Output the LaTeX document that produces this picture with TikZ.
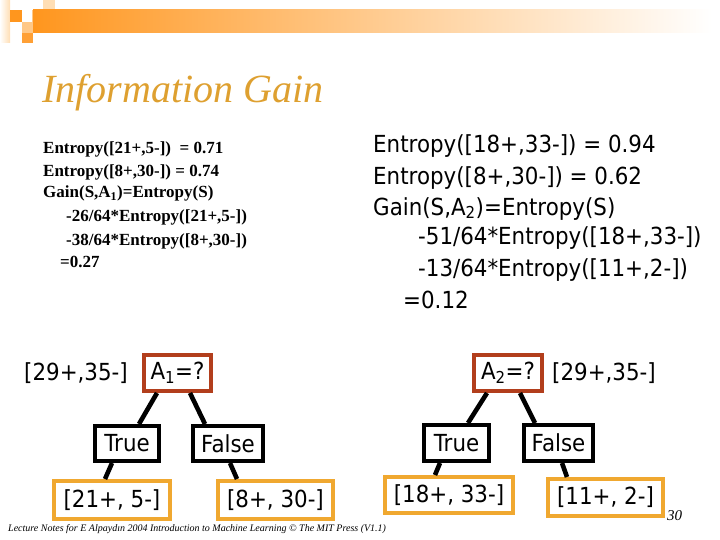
\documentclass[tikz,border=0pt]{standalone}
\usepackage{fontspec}
\setmainfont{Liberation Serif}
\newfontfamily\tah[FakeStretch=0.91]{DejaVu Sans}
\usetikzlibrary{calc}
\definecolor{titlec}{RGB}{222,160,48}
\definecolor{abox}{RGB}{178,62,28}
\definecolor{leafc}{RGB}{240,168,48}
\definecolor{barc}{RGB}{255,150,30}
\definecolor{lightc}{RGB}{255,200,135}
\definecolor{palec}{RGB}{255,222,180}
\begin{document}
\begin{tikzpicture}[x=1pt,y=-1pt,
  tahf/.style={font=\tah\fontsize{23.5}{28}\selectfont},
  serf/.style={font=\fontsize{17}{20}\selectfont\bfseries},
  txt/.style={inner sep=0pt, anchor=base west},
  rtxt/.style={txt, tahf},
  ltxt/.style={txt, serf},
  box/.style={draw, line width=4pt, fill=white, inner sep=0pt, tahf},
  abx/.style={box, draw=abox},
  lbx/.style={box, draw=black},
  leaf/.style={box, draw=leafc},
  edge/.style={line width=4.6pt}]
\useasboundingbox (0,0) rectangle (720,540);
% header decoration
\shade[left color=white, right color=palec] (0,0) rectangle (10,43);
\fill[barc] (10,10) rectangle (22,22);
\fill[lightc] (32,10) rectangle (43,22);
\fill[palec] (43,0) rectangle (55,10);
\fill[lightc] (22,22) rectangle (33,33);
\fill[barc!90] (22,33) rectangle (33,43);
\shade[left color=barc, middle color=barc!35!white, right color=white] (33,10) rectangle (712,33);
% title
\node[txt, text=titlec, font=\fontsize{40}{44}\selectfont\itshape] (title) at (42,103) {Information Gain};
% left text
\node[ltxt] (l1) at (43,154) {Entropy([21+,5-])\ \ = 0.71};
\node[ltxt] (l2) at (43,177) {Entropy([8+,30-]) = 0.74};
\node[ltxt] (l3) at (43,198) {Gain(S,A\textsubscript{1})=Entropy(S)};
\node[ltxt] (l4) at (66,222) {-26/64*Entropy([21+,5-])};
\node[ltxt] (l5) at (66,245) {-38/64*Entropy([8+,30-])};
\node[ltxt] (l6) at (60,267) {=0.27};
% right text
\node[rtxt] (r1) at (373,153) {Entropy([18+,33-]) = 0.94};
\node[rtxt] (r2) at (373,185) {Entropy([8+,30-]) = 0.62};
\node[rtxt] (r3) at (373,215) {Gain(S,A\textsubscript{2})=Entropy(S)};
\node[rtxt] (r4) at (418,244) {-51/64*Entropy([18+,33-])};
\node[rtxt] (r5) at (418,276) {-13/64*Entropy([11+,2-])};
\node[rtxt] (r6) at (403,308) {=0.12};
% left tree
\node[inner sep=0pt, tahf] (s1) at (76,373) {[29+,35-]};
\node[abx, minimum width=67, minimum height=36] (A1) at (177.5,373) {A\textsubscript{1}=?};
\node[lbx, minimum width=64, minimum height=35] (T1) at (127,443.5) {True};
\node[lbx, minimum width=70, minimum height=35] (F1) at (228,443.5) {False};
\node[leaf, minimum width=116, minimum height=38] (L1) at (112,500) {[21+, 5-]};
\node[leaf, minimum width=115, minimum height=38] (L2) at (275.5,500) {[8+, 30-]};
\draw[edge] ([xshift=-20.5]A1.south) -- ([xshift=12]T1.north);
\draw[edge] ([xshift=12.5]A1.south) -- ([xshift=-23]F1.north);
\draw[edge] ([xshift=-15]T1.south) -- ([xshift=-7]L1.north);
\draw[edge] ([xshift=2]F1.south) -- ([xshift=-38.5]L2.north);
% right tree
\node[inner sep=0pt, tahf] (s2) at (604,373) {[29+,35-]};
\node[abx, minimum width=68, minimum height=36] (A2) at (508,373) {A\textsubscript{2}=?};
\node[lbx, minimum width=65, minimum height=36] (T2) at (456.5,443) {True};
\node[lbx, minimum width=69, minimum height=36] (F2) at (558.5,443) {False};
\node[leaf, minimum width=128, minimum height=36] (L3) at (449,495) {[18+, 33-]};
\node[leaf, minimum width=115, minimum height=37] (L4) at (605.5,497.5) {[11+, 2-]};
\draw[edge] ([xshift=-21]A2.south) -- ([xshift=11.5]T2.north);
\draw[edge] ([xshift=12]A2.south) -- ([xshift=-23.5]F2.north);
\draw[edge] ([xshift=-16.5]T2.south) -- ([xshift=-14]L3.north);
\draw[edge] ([xshift=3.5]F2.south) -- ([xshift=-38.5]L4.north);
% footer
\node[txt, font=\fontsize{10}{11}\selectfont\itshape] (foot) at (8,531) {Lecture Notes for E Alpaydın 2004 Introduction to Machine Learning © The MIT Press (V1.1)};
\node[txt, font=\fontsize{15}{16}\selectfont\itshape] (pg) at (667,520) {30};
\end{tikzpicture}
\end{document}
